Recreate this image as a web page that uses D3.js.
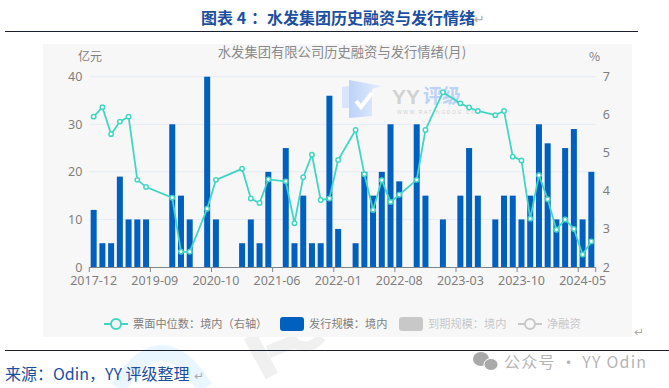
<!DOCTYPE html>
<html>
<head>
<meta charset="utf-8">
<script src="https://cdn.jsdelivr.net/npm/d3@7"></script>
<style>
  html, body { margin: 0; padding: 0; background: #fff; }
  svg { display: block; font-family: "Noto Sans CJK SC", sans-serif; }
</style>
</head>
<body>
<script>
// 横轴只标注每 7 个一档,中间的月份按位置估计
var months = ['2017-12','2018-03','2018-04','2018-07','2018-09','2018-11','2019-03','2019-09','2019-11','2019-12',
  '2020-01','2020-04','2020-07','2020-09','2020-10','2020-11','2021-01','2021-02','2021-03','2021-04',
  '2021-05','2021-06','2021-07','2021-08','2021-09','2021-10','2021-11','2021-12','2022-01','2022-02',
  '2022-03','2022-04','2022-05','2022-06','2022-07','2022-08','2022-09','2022-10','2022-11','2022-12',
  '2023-01','2023-02','2023-03','2023-04','2023-05','2023-06','2023-07','2023-08','2023-09','2023-10',
  '2023-11','2023-12','2024-01','2024-02','2024-03','2024-04','2024-05','2024-06'];
var labelledMonths = ['2017-12','2019-09','2020-10','2021-06','2022-01','2022-08','2023-03','2023-10','2024-05'];

var issuance = [12,5,5,19,10,10,10,0,0,30,
  15,10,0,40,10,0,0,5,10,5,
  20,0,25,5,15,5,5,36,8,0,
  5,20,15,20,30,18,0,30,15,0,
  10,0,15,25,15,0,10,15,15,10,
  15,30,26,10,25,29,10,20];

var coupon = [5.95,6.20,5.49,5.82,5.95,4.29,4.10,null,null,3.82,
  2.40,2.40,null,3.53,4.29,null,null,4.58,3.80,3.68,
  4.30,null,4.25,3.15,4.36,4.95,3.76,3.80,4.81,null,
  5.60,4.44,3.50,4.28,3.71,3.90,null,4.29,5.60,null,
  6.59,null,6.30,6.19,6.10,null,5.99,6.10,4.90,4.80,
  3.27,4.41,3.78,2.98,3.25,3.00,2.33,2.67];

var leftTicks = [0,10,20,30,40];
var rightTicks = [2,3,4,5,6,7];
// 全角标点写成转义,避免被替换成半角
var legendItems = ['票面中位数\uFF1A境内\uFF08右轴\uFF09','发行规模\uFF1A境内','到期规模\uFF1A境内','净融资'];

var width = 669, height = 388;
var plot = {left: 89.3, right: 595.7, top: 76.7, bottom: 267};
var panel = {x: 43, y: 44, w: 589, h: 293};
var teal = '#40d6c4', blue = '#0060c0', axisGray = '#7f8590', textGray = '#7f7f7f', pale = '#c8c8c8';
var headBlue = '#1c4fa0', markGray = '#a9a9a9';

var svg = d3.select('body').append('svg').attr('width', width).attr('height', height);

function renderBackMarks() {
  // 页面底部的淡色水印
  svg.append('path').attr('d', 'M118 388 Q162 318 205 388').attr('fill', 'none').attr('stroke', '#eaf6ff').attr('stroke-width', 16);
  svg.append('path').attr('d', 'M250 336 L272 376').attr('stroke', '#f0f0f0').attr('stroke-width', 14).attr('fill', 'none');
  svg.append('path').attr('d', 'M268 352 L298 340').attr('stroke', '#f0f0f0').attr('stroke-width', 13).attr('fill', 'none');
  svg.append('path').attr('d', 'M288 337 Q305 356 322 337').attr('stroke', '#f0f0f0').attr('stroke-width', 10).attr('fill', 'none');
}

renderBackMarks();

svg.append('rect').attr('x', panel.x).attr('y', panel.y).attr('width', panel.w).attr('height', panel.h).attr('fill', '#f7f7f7');

var x = d3.scaleBand().domain(d3.range(months.length)).range([plot.left, plot.right]);
var yLeft = d3.scaleLinear().domain([0, 40]).range([plot.bottom, plot.top]);
var yRight = d3.scaleLinear().domain([2, 7]).range([plot.bottom, plot.top]);

function renderWatermark() {
  var g = svg.append('g');
  var grad = svg.append('defs').append('linearGradient').attr('id', 'logo').attr('x1', 0).attr('x2', 1).attr('y1', 0).attr('y2', 0);
  grad.append('stop').attr('offset', 0).attr('stop-color', '#bcd2fa');
  grad.append('stop').attr('offset', 1).attr('stop-color', '#e6eefc');
  g.append('path').attr('d', 'M342 87 L349 86 L349 108 L342 108 Z').attr('fill', '#d9e5fb');
  g.append('path').attr('d', 'M349 80 L382 86 L372 89 L372 116 L349 118 Z').attr('fill', 'url(#logo)');
  g.append('path').attr('d', 'M356 101 L361 107 L372 93').attr('fill', 'none').attr('stroke', '#fff').attr('stroke-width', 4);
  g.append('text').attr('x', 392).attr('y', 104).attr('font-size', 21).attr('font-weight', 700).attr('fill', '#d2d2d2').attr('font-family', 'Liberation Sans').text('YY');
  g.append('text').attr('x', 423).attr('y', 103).attr('font-size', 19).attr('font-weight', 700).attr('fill', '#bcd2f7').text('评级');
  g.append('text').attr('x', 397).attr('y', 114).attr('font-size', 5).attr('letter-spacing', 1.6).attr('fill', '#d0d0d0').attr('font-family', 'Liberation Sans').text('WWW.RATINGDOG.CN');
}

function renderGrid() {
  svg.append('g').selectAll('line').data(leftTicks.slice(1)).join('line')
    .attr('x1', plot.left).attr('x2', plot.right)
    .attr('y1', d => yLeft(d)).attr('y2', d => yLeft(d))
    .attr('stroke', '#e6ebf5').attr('stroke-width', 1);
}

function renderBars() {
  svg.append('g').selectAll('rect').data(issuance).join('rect')
    .attr('x', (d, i) => x(i) + x.bandwidth() / 2 - 3)
    .attr('width', 6)
    .attr('y', d => yLeft(d))
    .attr('height', d => plot.bottom - yLeft(d))
    .attr('fill', blue);
}

function renderAxes() {
  var fmt = s => { s.select('.domain').remove(); s.selectAll('line').remove(); };
  svg.append('g').attr('transform', `translate(${plot.left - 7},0)`)
    .call(d3.axisLeft(yLeft).tickValues(leftTicks).tickSize(0).tickPadding(0)).call(fmt)
    .selectAll('text').attr('font-size', 12.5).attr('fill', textGray).attr('font-family', 'Noto Sans');
  svg.append('g').attr('transform', `translate(${plot.right + 7},0)`)
    .call(d3.axisRight(yRight).tickValues(rightTicks).tickFormat(d3.format('d')).tickSize(0).tickPadding(0)).call(fmt)
    .selectAll('text').attr('font-size', 12.5).attr('fill', textGray).attr('font-family', 'Noto Sans');

  // 刻度线在 band 边界,文字在 band 中心
  var base = svg.append('g');
  base.append('line').attr('x1', plot.left).attr('x2', plot.right)
    .attr('y1', plot.bottom + 0.5).attr('y2', plot.bottom + 0.5).attr('stroke', axisGray);
  var tickIdx = labelledMonths.map(m => months.indexOf(m));
  var edges = tickIdx.map(i => x(i)).concat([plot.right]);
  base.selectAll('line.tick').data(edges).join('line').classed('tick', true)
    .attr('x1', d => d).attr('x2', d => d)
    .attr('y1', plot.bottom).attr('y2', plot.bottom + 5).attr('stroke', axisGray);
  base.selectAll('text').data(tickIdx).join('text')
    .attr('x', i => x(i) + x.bandwidth() / 2).attr('y', plot.bottom + 18)
    .attr('text-anchor', 'middle').attr('font-size', 12.5).attr('fill', textGray).attr('font-family', 'Noto Sans')
    .text(i => months[i]);
}

function renderLine() {
  var pts = coupon.map((v, i) => ({v: v, i: i})).filter(d => d.v !== null);
  var line = d3.line().x(d => x(d.i) + x.bandwidth() / 2).y(d => yRight(d.v));
  svg.append('path').datum(pts).attr('d', line).attr('fill', 'none').attr('stroke', teal).attr('stroke-width', 1.8);
  svg.append('g').selectAll('circle').data(pts).join('circle')
    .attr('cx', d => x(d.i) + x.bandwidth() / 2).attr('cy', d => yRight(d.v)).attr('r', 2.2)
    .attr('fill', '#fff').attr('stroke', teal).attr('stroke-width', 1.5);
}

function renderLegend() {
  var g = svg.append('g').attr('font-size', 11.2);
  function lineKey(cx, color) {
    g.append('line').attr('x1', cx - 12).attr('x2', cx + 12).attr('y1', 324).attr('y2', 324).attr('stroke', color).attr('stroke-width', 2);
    g.append('circle').attr('cx', cx).attr('cy', 324).attr('r', 5).attr('fill', '#f7f7f7').attr('stroke', color).attr('stroke-width', 2);
  }
  function boxKey(bx, color) {
    g.append('rect').attr('x', bx).attr('y', 317).attr('width', 24).attr('height', 14).attr('rx', 3).attr('fill', color);
  }
  lineKey(116, teal);
  g.append('text').attr('x', 133).attr('y', 328).attr('fill', textGray).text(legendItems[0]);
  boxKey(280, blue);
  g.append('text').attr('x', 309).attr('y', 328).attr('fill', textGray).text(legendItems[1]);
  boxKey(399, pale);
  g.append('text').attr('x', 428).attr('y', 328).attr('fill', pale).text(legendItems[2]);
  lineKey(530, pale);
  g.append('text').attr('x', 547).attr('y', 328).attr('fill', pale).text(legendItems[3]);
}

function renderFrame() {
  var returnMark = (rx, ry, size) => svg.append('text').attr('x', rx).attr('y', ry).attr('font-size', size)
    .attr('fill', markGray).attr('font-family', 'DejaVu Sans').text('↵');
  var head = svg.append('text').attr('x', 201).attr('y', 24)
    .attr('font-size', 16).attr('font-weight', 700).attr('fill', headBlue).text('图表 4');
  head.append('tspan').attr('dx', 5).text('\uFF1A水发集团历史融资与发行情绪');
  returnMark(474, 24, 13);
  svg.append('line').attr('x1', 5).attr('x2', 638).attr('y1', 31.5).attr('y2', 31.5).attr('stroke', '#1a1f2b');
  svg.append('line').attr('x1', 5).attr('x2', 669).attr('y1', 350.5).attr('y2', 350.5).attr('stroke', '#1a1f2b');
  svg.append('text').attr('x', 342).attr('y', 57).attr('text-anchor', 'middle').attr('font-size', 13.3).attr('fill', '#8a8a8a').text('水发集团有限公司历史融资与发行情绪(月)');
  svg.append('text').attr('x', 78).attr('y', 61).attr('font-size', 12).attr('fill', textGray).text('亿元');
  svg.append('text').attr('x', 589).attr('y', 61).attr('font-size', 12).attr('fill', textGray).text('%');
  svg.append('text').attr('x', 5).attr('y', 380).attr('font-size', 16).attr('fill', headBlue).text('来源\uFF1AOdin\uFF0CYY 评级整理');
  returnMark(194, 380, 12);
  returnMark(634, 336, 12);
  svg.append('ellipse').attr('cx', 481).attr('cy', 359).attr('rx', 8).attr('ry', 7).attr('fill', markGray);
  svg.append('ellipse').attr('cx', 491).attr('cy', 364.5).attr('rx', 7).attr('ry', 6).attr('fill', markGray).attr('stroke', '#fff');
  svg.append('text').attr('x', 504).attr('y', 368).attr('font-size', 16).attr('letter-spacing', 1.2).attr('fill', '#b5b5b5').text('公众号 · YY Odin');
}

renderWatermark();
renderGrid();
renderBars();
renderAxes();
renderLine();
renderLegend();
renderFrame();
</script>
</body>
</html>
